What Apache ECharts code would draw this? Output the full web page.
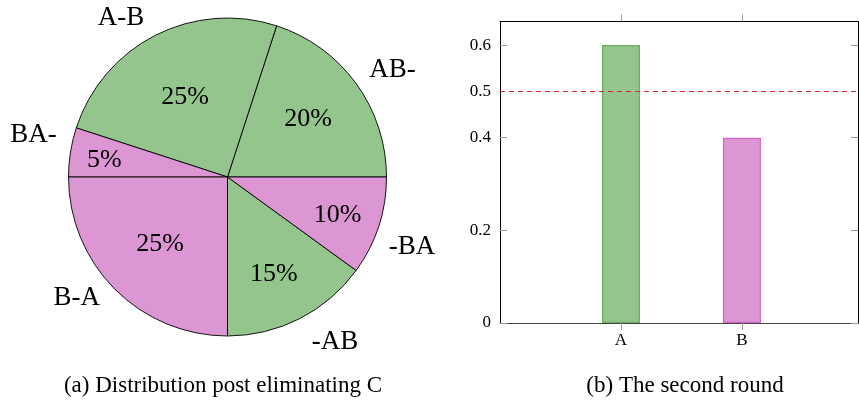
<!DOCTYPE html>
<html><head><meta charset="utf-8">
<script src="https://cdn.jsdelivr.net/npm/echarts@6/dist/echarts.min.js"></script>
<style>html,body{margin:0;padding:0;background:#fff}#c{width:859px;height:400px}</style>
</head><body><div id="c"></div>
<script>
// ---- data ----
const pieNames = ['AB-', 'A-B', 'BA-', 'B-A', '-AB', '-BA'];
const pieValues = [20, 25, 5, 25, 15, 10];
const barCategories = ['A', 'B'];
const barValues = [0.6, 0.4];
const yLabelValues = [0, 0.2, 0.4, 0.5, 0.6];
const yTickValues = [0, 0.2, 0.4, 0.6];
const threshold = 0.5;
const captions = ['(a) Distribution post eliminating C', '(b) The second round'];

// ---- styles ----
const FONT = 'Liberation Serif';
const GREEN = '#93c58c', GREEN_B = '#6aae5e';
const PINK = '#dc96d4', PINK_B = '#d065c5';
const colorOf = n => n.replace(/-/g, '')[0] === 'A' ? GREEN : PINK;
const PIE_C = [227.5, 177], PIE_R = 159;
// small label nudges (style only), per slice in order
const outerNudge = [[-8, -2], [3, 0], [11, -14], [4, -6], [-2, 5], [-14, 15]];
const innerNudge = [[-3, 3], [1, 5], [2, 3], [0, 0], [-4, -2], [-3, 1]];

const total = pieValues.reduce((a, b) => a + b, 0);
const series = [];
series.push({
  type: 'pie', center: PIE_C, radius: [0, PIE_R], startAngle: 0, clockwise: false,
  silent: true, animation: false, avoidLabelOverlap: false,
  data: pieNames.map((n, i) => ({ name: n, value: pieValues[i], itemStyle: { color: colorOf(n) } })),
  itemStyle: { borderColor: '#000', borderWidth: 0.9 },
  label: { show: true, position: 'outside', formatter: '{b}', fontFamily: FONT, fontSize: 27, color: '#000' },
  labelLine: { show: false, length: 20, length2: 0 },
  labelLayout: p => ({ dx: outerNudge[p.dataIndex][0], dy: outerNudge[p.dataIndex][1] })
});
// inner percentage labels at pgf-pie-like radii
pieValues.forEach((v, i) => {
  const span = v / total * 360;
  const f = 0.8 + Math.max(Math.min(-(span - 10) / 110 * 0.3, 0), -0.5);
  const rl = f * PIE_R;
  series.push({
    type: 'pie', center: PIE_C, radius: [0, 2 * rl], startAngle: 0, clockwise: false,
    silent: true, animation: false, avoidLabelOverlap: false, z: 5,
    data: pieNames.map((n, j) => ({ name: n, value: pieValues[j] })),
    itemStyle: { color: 'rgba(0,0,0,0)', borderWidth: 0 },
    label: { show: true, position: 'inside', fontFamily: FONT, fontSize: 26, color: '#000',
      formatter: p => p.dataIndex === i ? p.value + '%' : '' },
    labelLine: { show: false },
    labelLayout: p => ({ dx: innerNudge[p.dataIndex][0], dy: innerNudge[p.dataIndex][1] })
  });
});
// bars
series.push({
  type: 'bar', xAxisIndex: 0, yAxisIndex: 0, barWidth: 38, animation: false,
  data: barCategories.map((c, i) => ({
    value: [i + 1, barValues[i]],
    itemStyle: { color: i === 0 ? GREEN : PINK, borderColor: i === 0 ? GREEN_B : PINK_B, borderWidth: 1.2 }
  })),
  markLine: {
    silent: true, symbol: 'none', animation: false, label: { show: false },
    lineStyle: { color: '#d42a2a', type: [5, 4], width: 1 },
    data: [{ yAxis: threshold }]
  }
});

const tickStyle = { color: '#999', width: 1 };
const capStyle = { fontFamily: FONT, fontSize: 23, fontWeight: 'normal', color: '#000' };
const option = {
  animation: false,
  title: [
    { text: captions[0], left: 218, top: 369, textAlign: 'center', textStyle: capStyle },
    { text: captions[1], left: 680, top: 369, textAlign: 'center', textStyle: capStyle }
  ],
  grid: { left: 500, top: 21.5, right: 1, bottom: 77, containLabel: false },
  xAxis: [
    { type: 'value', position: 'bottom', min: 0, max: 2.96,
      axisLine: { show: true, lineStyle: { color: '#444', width: 1 } },
      axisTick: { show: true, inside: false, length: 7, customValues: [1, 2], lineStyle: tickStyle },
      axisLabel: { customValues: [1, 2], formatter: v => barCategories[Math.round(v) - 1] || '',
        fontFamily: FONT, fontSize: 17, color: '#000', margin: 9 },
      splitLine: { show: false } },
    { type: 'value', position: 'top', min: 0, max: 2.96,
      axisLine: { show: true, onZero: false, lineStyle: { color: '#000', width: 1 } },
      axisTick: { show: true, inside: false, length: 7, customValues: [1, 2], lineStyle: tickStyle },
      axisLabel: { show: false }, splitLine: { show: false } }
  ],
  yAxis: [
    { type: 'value', position: 'left', min: 0, max: 0.651,
      axisLine: { show: true, onZero: false, lineStyle: { color: '#000', width: 1 } },
      axisTick: { show: true, inside: true, length: 7, customValues: yTickValues, lineStyle: tickStyle },
      axisLabel: { customValues: yLabelValues, formatter: v => String(v),
        fontFamily: FONT, fontSize: 17, color: '#000', margin: 9 },
      splitLine: { show: false } },
    { type: 'value', position: 'right', min: 0, max: 0.651,
      axisLine: { show: true, onZero: false, lineStyle: { color: '#000', width: 1 } },
      axisTick: { show: true, inside: true, length: 7, customValues: yTickValues, lineStyle: tickStyle },
      axisLabel: { show: false }, splitLine: { show: false } }
  ],
  series
};
const chart = echarts.init(document.getElementById('c'), null, { renderer: 'canvas' });
chart.setOption(option);
</script></body></html>
